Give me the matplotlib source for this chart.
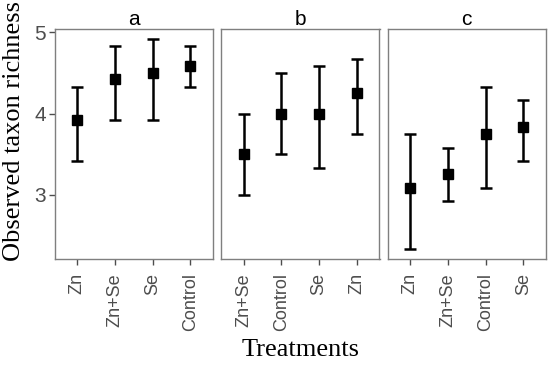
import matplotlib
matplotlib.use("Agg")
import matplotlib.pyplot as plt

# panel a
a_labels = ["Zn", "Zn+Se", "Se", "Control"]
a_mean = [3.92, 4.42, 4.50, 4.58]
a_low = [3.42, 3.92, 3.92, 4.33]
a_high = [4.33, 4.83, 4.92, 4.83]

# panel b
b_labels = ["Zn+Se", "Control", "Se", "Zn"]
b_mean = [3.50, 4.00, 4.00, 4.25]
b_low = [3.00, 3.50, 3.33, 3.75]
b_high = [4.00, 4.50, 4.58, 4.67]

# panel c
c_labels = ["Zn", "Zn+Se", "Control", "Se"]
c_mean = [3.08, 3.25, 3.75, 3.83]
c_low = [2.33, 2.92, 3.08, 3.42]
c_high = [3.75, 3.58, 4.33, 4.17]

panels = [("a", a_labels, a_mean, a_low, a_high),
          ("b", b_labels, b_mean, b_low, b_high),
          ("c", c_labels, c_mean, c_low, c_high)]

fig = plt.figure(figsize=(5.5, 3.7), dpi=100)
W, H = 550.0, 370.0
lefts = [54.5, 221, 387.5]
pw = 158.5
top, bottom = 29, 259

sans = "Liberation Sans"
serif = "Liberation Serif"

for i, (title, labs, m, lo, hi) in enumerate(panels):
    ax = fig.add_axes([lefts[i] / W, (H - bottom) / H, pw / W, (bottom - top) / H])
    x = list(range(1, len(labs) + 1))
    err = [[mm - l for mm, l in zip(m, lo)], [h - mm for mm, h in zip(m, hi)]]
    ax.errorbar(x, m, yerr=err, fmt="s", color="black", ms=7, elinewidth=1.8,
                capsize=4, capthick=1.8)
    ax.set_xlim(0.4, 4.6)
    ax.set_ylim(2.21, 5.04)
    ax.set_xticks(x)
    ax.set_xticklabels(labs, rotation=90, fontsize=13, family=sans, color="#4d4d4d")
    ax.set_yticks([3, 4, 5])
    if i == 0:
        ax.set_yticklabels(["3", "4", "5"], fontsize=15, family=sans, color="#4d4d4d")
        ax.tick_params(axis="y", length=4, color="#4d4d4d", width=1, pad=2)
    else:
        ax.tick_params(axis="y", left=False, labelleft=False)
    ax.tick_params(axis="x", length=4, color="#4d4d4d", width=1, pad=6)
    for s in ax.spines.values():
        s.set_color("#7f7f7f")
        s.set_linewidth(1.0)
    ax.set_title(title, fontsize=15, family=sans, pad=3)

fig.text(14 / W, (H - 131) / H, "Observed taxon richness",
         rotation=90, ha="center", va="center", fontsize=19, family=serif)
fig.text(0.5 * (lefts[0] + lefts[2] + pw) / W, (H - 350) / H, "Treatments",
         ha="center", va="center", fontsize=19, family=serif)

fig.savefig("out.png", dpi=100)
